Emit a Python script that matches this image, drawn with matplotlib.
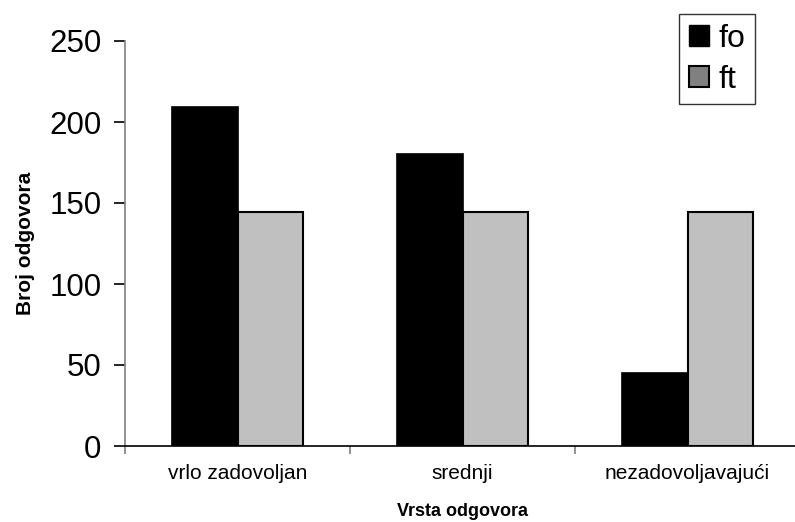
import matplotlib
matplotlib.use("Agg")
import matplotlib.pyplot as plt
import numpy as np
from matplotlib.patches import Patch

categories = ["vrlo zadovoljan", "srednji", "nezadovoljavajući"]
fo = [209, 180, 45]
ft = [144.67, 144.67, 144.67]
yticks = [0, 50, 100, 150, 200, 250]

plt.rcParams['font.family'] = ['Liberation Sans', 'DejaVu Sans']

fig = plt.figure(figsize=(7.95, 5.22), dpi=100)
ax = fig.add_axes([125/795, 76/522, 675/795, 405/522])

x = np.arange(len(categories))
w = 0.293
ax.bar(x - w/2, fo, width=w, color='black', edgecolor='black', linewidth=1.2, zorder=3)
ax.bar(x + w/2, ft, width=w, color='#c0c0c0', edgecolor='black', linewidth=1.5, zorder=3)

ax.set_xlim(-0.5, 2.5)
ax.set_ylim(0, 250)
ax.set_yticks(yticks)
ax.set_yticklabels([str(v) for v in yticks], fontsize=22.5)
ax.set_xticks([-0.5, 0.5, 1.5, 2.5])
ax.set_xticklabels([])
ax.set_xticks(x, minor=True)
ax.set_xticklabels(categories, minor=True, fontsize=15)
ax.tick_params(axis='x', which='major', length=6, color='#808080', width=1.2, direction='out')
ax.tick_params(axis='x', which='minor', length=0, pad=13)
ax.tick_params(axis='y', length=8, width=1.2, color='black', direction='out', pad=9)

for s in ['top', 'right']:
    ax.spines[s].set_visible(False)
ax.spines['left'].set_color('#808080')
ax.spines['left'].set_linewidth(1.2)
ax.spines['bottom'].set_color('black')
ax.spines['bottom'].set_linewidth(1.2)

ax.set_ylabel("Broj odgovora", fontsize=15, fontweight='bold', labelpad=10)
ax.set_xlabel("Vrsta odgovora", fontsize=13, fontweight='bold', labelpad=14)

handles = [Patch(facecolor='black', edgecolor='black', label='fo'),
           Patch(facecolor='#808080', edgecolor='black', linewidth=1.5, label='ft')]
leg = ax.legend(handles=handles, loc='upper left', bbox_to_anchor=(679/795, 1 - 14/522),
                bbox_transform=fig.transFigure, fontsize=23, frameon=True, fancybox=False,
                handlelength=0.65, handleheight=0.65, handletextpad=0.3, borderpad=0.3,
                labelspacing=0.35, borderaxespad=0)
leg.get_frame().set_edgecolor('black')
leg.get_frame().set_linewidth(1.0)

fig.savefig("out.png", dpi=100)
